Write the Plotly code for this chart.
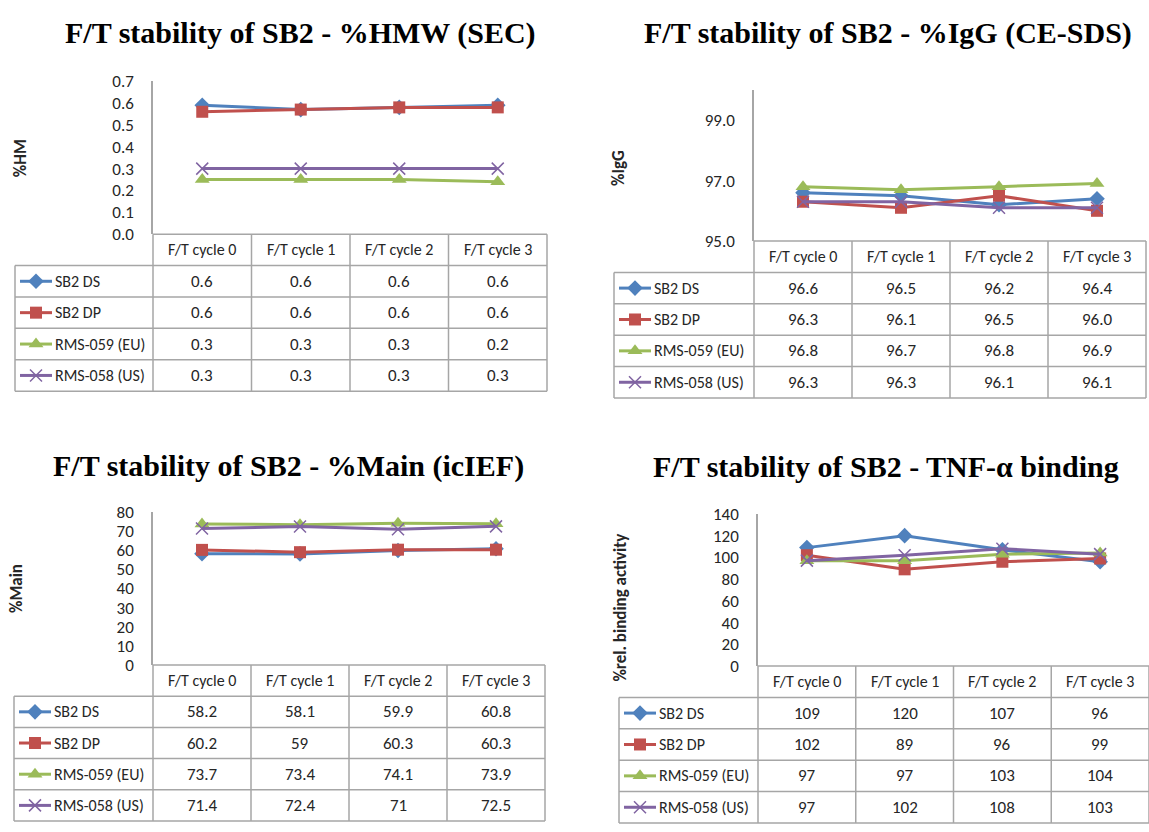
import plotly.graph_objects as go
from decimal import Decimal, ROUND_HALF_UP

W, H = 1149, 832

# ---------------- data ----------------
categories = ["F/T cycle 0", "F/T cycle 1", "F/T cycle 2", "F/T cycle 3"]
series_names = ["SB2 DS", "SB2 DP", "RMS-059 (EU)", "RMS-058 (US)"]

titles = [
    "F/T stability of SB2 - %HMW (SEC)",
    "F/T stability of SB2 - %IgG (CE-SDS)",
    "F/T stability of SB2 - %Main (icIEF)",
    "F/T stability of SB2 - TNF-\u03b1 binding",
]
y_titles = ["%HM", "%IgG", "%Main", "%rel. binding activity"]

# %HMW (SEC)
hmw_ds = [0.59, 0.57, 0.58, 0.59]
hmw_dp = [0.56, 0.57, 0.58, 0.58]
hmw_eu = [0.25, 0.25, 0.25, 0.24]
hmw_us = [0.30, 0.30, 0.30, 0.30]

# %IgG (CE-SDS)
igg_ds = [96.6, 96.5, 96.2, 96.4]
igg_dp = [96.3, 96.1, 96.5, 96.0]
igg_eu = [96.8, 96.7, 96.8, 96.9]
igg_us = [96.3, 96.3, 96.1, 96.1]

# %Main (icIEF)
main_ds = [58.2, 58.1, 59.9, 60.8]
main_dp = [60.2, 59, 60.3, 60.3]
main_eu = [73.7, 73.4, 74.1, 73.9]
main_us = [71.4, 72.4, 71, 72.5]

# TNF-alpha binding
tnf_ds = [109, 120, 107, 96]
tnf_dp = [102, 89, 96, 99]
tnf_eu = [97, 97, 103, 104]
tnf_us = [97, 102, 108, 103]

panel_data = [
    [hmw_ds, hmw_dp, hmw_eu, hmw_us],
    [igg_ds, igg_dp, igg_eu, igg_us],
    [main_ds, main_dp, main_eu, main_us],
    [tnf_ds, tnf_dp, tnf_eu, tnf_us],
]

# ---------------- styles / layout ----------------
colors = ["#4F81BD", "#C0504D", "#9BBB59", "#8064A2"]
symbols = ["diamond", "square", "triangle-up", "x-thin-open"]
msizes = [12, 12, 13, 12]
FONT = "Carlito, Calibri, Lato, sans-serif"
TFONT = "Liberation Serif, Times New Roman, serif"
GRID = "#a6a6a6"
TXT = "#262626"

panels = [
    dict(tx=300, ty=24, left=15, lab=153, right=547, top=73, ttop=230, rowh=32.2,
         ytx=20, yty=152, yr=[0, 0.7], dtick=0.1, tick0=0, tfmt=".1f", dec=1),
    dict(tx=888, ty=24, left=614, lab=754, right=1146, top=82, ttop=237, rowh=32.2,
         ytx=619, yty=162, yr=[95, 100], dtick=2, tick0=95, tfmt=".1f", dec=1),
    dict(tx=288, ty=468, left=14, lab=153, right=545, top=515, ttop=672, rowh=32.0,
         ytx=16, yty=594, yr=[0, 80], dtick=10, tick0=0, tfmt="d", dec=None),
    dict(tx=886, ty=468, left=619, lab=758, right=1149, top=517, ttop=673, rowh=32.2,
         ytx=621, yty=613, yr=[0, 140], dtick=20, tick0=0, tfmt="d", dec=None),
]


def px(x):
    return x / W


def py(y):
    return 1 - y / H


def fmt_val(v, dec):
    if dec is None:
        return f"{v:g}"
    q = Decimal(str(v)).quantize(Decimal(1).scaleb(-dec), rounding=ROUND_HALF_UP)
    return str(q)


fig = go.Figure()
shapes = []
annotations = []

for i, (p, data) in enumerate(zip(panels, panel_data), start=1):
    xa = f"x{i}"
    ya = f"y{i}"
    for k, vals in enumerate(data):
        fig.add_trace(go.Scatter(
            x=categories, y=vals, mode="lines+markers", name=series_names[k],
            xaxis=xa, yaxis=ya, showlegend=False, cliponaxis=False,
            line=dict(color=colors[k], width=3),
            marker=dict(symbol=symbols[k], size=msizes[k], color=colors[k],
                        line=dict(color=colors[k], width=1.5 if k == 3 else 0)),
        ))
    fig.layout[f"xaxis{i}"] = dict(
        type="category", categoryorder="array", categoryarray=categories,
        range=[-0.5, 3.5], domain=[px(p["lab"]), px(p["right"])],
        showticklabels=False, showline=False, showgrid=False, zeroline=False,
        anchor=ya, fixedrange=True,
    )
    fig.layout[f"yaxis{i}"] = dict(
        range=p["yr"], dtick=p["dtick"], tick0=p["tick0"], tickformat=p["tfmt"],
        domain=[py(p["ttop"]), py(p["top"])], showline=True, linecolor=GRID,
        linewidth=1.5, showgrid=False, zeroline=False, ticks="",
        ticklabelstandoff=14, tickfont=dict(family=FONT, size=17, color=TXT),
        anchor=xa, fixedrange=True,
    )

    # title and y title
    annotations.append(dict(
        text=f"<b>{titles[i-1]}</b>", x=px(p["tx"]), y=py(p["ty"]),
        xref="paper", yref="paper", showarrow=False, xanchor="center", yanchor="middle",
        font=dict(family=TFONT, size=30, color="#000000"),
    ))
    annotations.append(dict(
        text=f"<b>{y_titles[i-1]}</b>", x=px(p["ytx"]), y=py(p["yty"]),
        xref="paper", yref="paper", showarrow=False, textangle=-90,
        xanchor="center", yanchor="middle",
        font=dict(family=FONT, size=17, color=TXT),
    ))

    # data table
    ncol = len(categories)
    colw = (p["right"] - p["lab"]) / ncol
    rh = p["rowh"]
    top = p["ttop"]
    nrows = len(series_names)
    bottom = top + rh * (nrows + 1)
    line = dict(color=GRID, width=1.5)
    shapes.append(dict(type="line", xref="paper", yref="paper",
                       x0=px(p["lab"]), x1=px(p["right"]), y0=py(top), y1=py(top), line=line))
    for r in range(1, nrows + 2):
        yy = top + rh * r
        shapes.append(dict(type="line", xref="paper", yref="paper",
                           x0=px(p["left"]), x1=px(p["right"]), y0=py(yy), y1=py(yy), line=line))
    for c in range(ncol + 1):
        xx = p["lab"] + colw * c
        shapes.append(dict(type="line", xref="paper", yref="paper",
                           x0=px(xx), x1=px(xx), y0=py(top), y1=py(bottom), line=line))
    shapes.append(dict(type="line", xref="paper", yref="paper",
                       x0=px(p["left"]), x1=px(p["left"]), y0=py(top + rh), y1=py(bottom), line=line))

    for c, cat in enumerate(categories):
        annotations.append(dict(
            text=cat, x=px(p["lab"] + colw * (c + 0.5)), y=py(top + rh * 0.5),
            xref="paper", yref="paper", showarrow=False, xanchor="center", yanchor="middle",
            font=dict(family=FONT, size=16, color=TXT),
        ))
    for k, vals in enumerate(data):
        yc = top + rh * (k + 1.5)
        annotations.append(dict(
            text=series_names[k], x=px(p["left"] + 38), y=py(yc),
            xref="paper", yref="paper", showarrow=False, xanchor="left", yanchor="middle",
            font=dict(family=FONT, size=16, color=TXT),
        ))
        for c, v in enumerate(vals):
            annotations.append(dict(
                text=fmt_val(v, p["dec"]), x=px(p["lab"] + colw * (c + 0.5)), y=py(yc),
                xref="paper", yref="paper", showarrow=False, xanchor="center", yanchor="middle",
                font=dict(family=FONT, size=17, color=TXT),
            ))
        # legend key in table (pixel overlay axes)
        fig.add_trace(go.Scatter(
            x=[p["left"] + 5, p["left"] + 37], y=[yc, yc], mode="lines",
            xaxis="x5", yaxis="y5", showlegend=False, hoverinfo="skip",
            line=dict(color=colors[k], width=3),
        ))
        fig.add_trace(go.Scatter(
            x=[p["left"] + 21], y=[yc], mode="markers",
            xaxis="x5", yaxis="y5", showlegend=False, hoverinfo="skip",
            marker=dict(symbol=symbols[k], size=msizes[k], color=colors[k],
                        line=dict(color=colors[k], width=1.5 if k == 3 else 0)),
        ))

fig.layout["xaxis5"] = dict(domain=[0, 1], range=[0, W], visible=False, anchor="y5", fixedrange=True)
fig.layout["yaxis5"] = dict(domain=[0, 1], range=[H, 0], visible=False, anchor="x5", fixedrange=True)

fig.update_layout(
    width=W, height=H, margin=dict(l=0, r=0, t=0, b=0),
    paper_bgcolor="white", plot_bgcolor="rgba(0,0,0,0)",
    shapes=shapes, annotations=annotations, showlegend=False,
)

fig.write_html("out.html")
